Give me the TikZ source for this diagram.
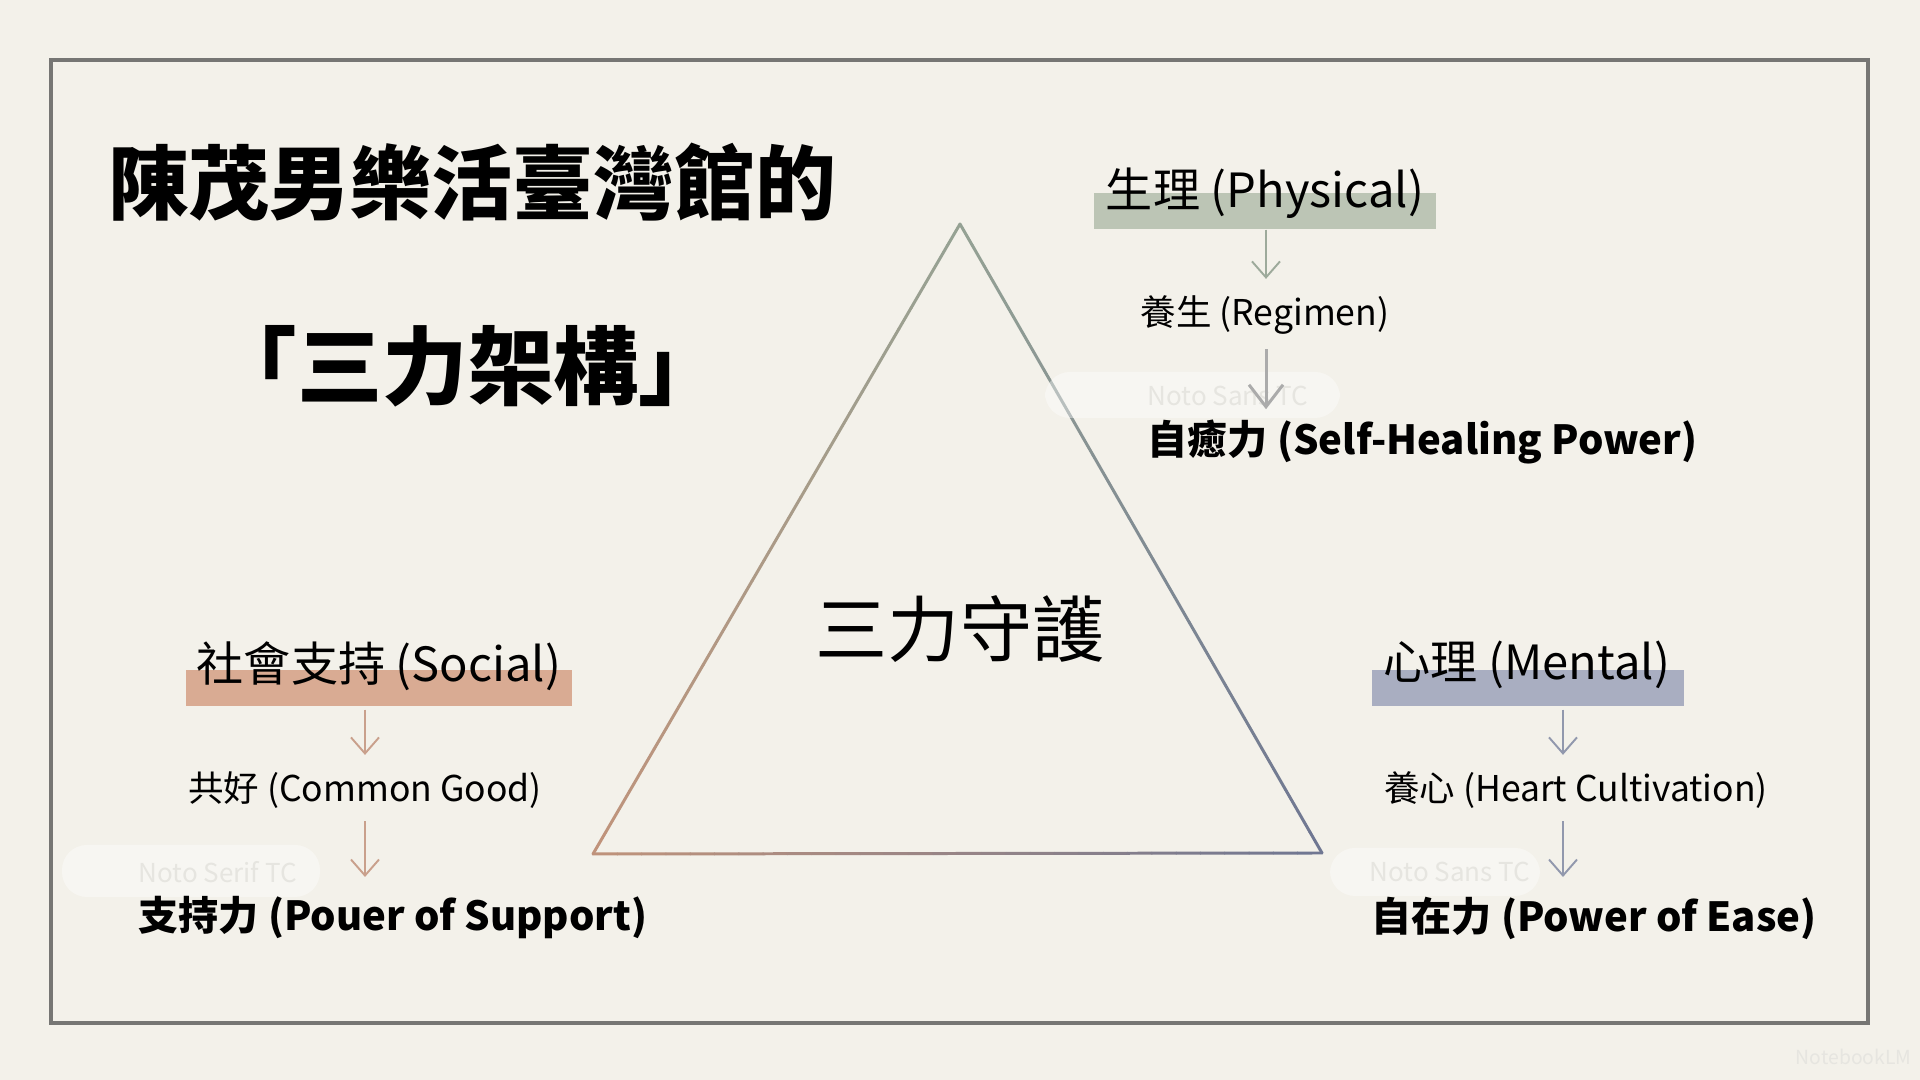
\documentclass[tikz,border=0pt]{standalone}
\usepackage{fontspec}
\setmainfont{Noto Sans CJK TC}
\usetikzlibrary{arrows.meta, calc}

\definecolor{paper}{HTML}{F3F1EA}
\definecolor{framegray}{HTML}{767674}
\definecolor{phygreen}{HTML}{BCC5B5}
\definecolor{phyline}{HTML}{9DAA9B}
\definecolor{soctan}{HTML}{D9AB93}
\definecolor{socline}{HTML}{C9A08C}
\definecolor{menblue}{HTML}{A9AEC1}
\definecolor{menline}{HTML}{9198AD}
\definecolor{tritop}{HTML}{95A294}
\definecolor{trileft}{HTML}{C0937B}
\definecolor{triright}{HTML}{6F7792}
\definecolor{ghostgray}{HTML}{E6E5E0}

\newcommand{\fsTitle}{\fontsize{23pt}{28pt}\selectfont}
\newcommand{\fsTitleB}{\fontsize{24.3pt}{29pt}\selectfont}
\newcommand{\fsCore}{\fontsize{20.5pt}{24pt}\selectfont}
\newcommand{\fsBar}{\fontsize{13.4pt}{16pt}\selectfont}
\newcommand{\fsMid}{\fontsize{10.1pt}{12pt}\selectfont}
\newcommand{\fsBold}{\fontsize{11.4pt}{14pt}\selectfont}
\newcommand{\fsGhost}{\fontsize{7.4pt}{9pt}\selectfont}

\tikzset{
    titletext/.style={font=\fsTitle\bfseries, inner sep=0pt},
    coretext/.style={font=\fsCore, inner sep=0pt},
    barbox/.style={fill=#1, inner sep=0pt, minimum height=0.36cm},
    labtext/.style={font=\fsBar, inner sep=0pt},
    midtext/.style={font=\fsMid, inner sep=0pt},
    boldtext/.style={font=\fsBold\bfseries, inner sep=0pt, anchor=west},
    ghost/.style={font=\fsGhost, text=ghostgray, inner sep=0pt, anchor=west},
    patch/.style={fill=white, opacity=0.4, rounded corners=0.25cm},
    arr/.style={draw=#1, line width=0.55pt, -{Straight Barb[length=1.6mm, width=2.8mm]}},
    bigarr/.style={draw=black!33, line width=0.85pt, -{Straight Barb[length=2.2mm, width=3.4mm]}},
    tri/.style={line width=0.85pt, line cap=round}
}

\begin{document}
\begin{tikzpicture}[x=0.01cm, y=-0.01cm]
    % Paper and frame
    \fill[paper] (0,0) rectangle (1920,1080);
    \useasboundingbox (0,0) rectangle (1920,1080);
    \draw[framegray, line width=0.9pt] (51,60) rectangle (1868,1023);

    % Title
    \node[titletext] (title1) at (472,182) {陳茂男樂活臺灣館的};
    \node[titletext, font=\fsTitleB\bfseries] (title2) at (468,366) {「三力架構」};

    % Triangle with colour running along each side
    \coordinate (apex) at (960,224);
    \coordinate (left) at (593,854);
    \coordinate (right) at (1322,853);
    \foreach \p/\q/\ca/\cb in {apex/left/tritop/trileft, apex/right/tritop/triright, left/right/trileft/triright} {
        \foreach \i in {1,...,30} {
            \pgfmathtruncatemacro{\mixpct}{100-(\i-0.5)*100/30}
            \draw[tri, \ca!\mixpct!\cb] ($(\p)!{(\i-1)/30}!(\q)$) -- ($(\p)!{\i/30}!(\q)$);
        }
    }
    \node[coretext] (core) at (960,629) {三力守護};

    % Faint patches and leftover font names
    \fill[patch] (1045,372) rectangle (1340,418);
    \fill[patch] (62,845) rectangle (320,897);
    \fill[patch] (1330,848) rectangle (1540,896);
    \node[ghost] (ghostphy) at (1147,396) {Noto Sans TC};
    \node[ghost] (ghostsoc) at (138,872) {Noto Serif TC};
    \node[ghost] (ghostmen) at (1369,872) {Noto Sans TC};
    \node[font=\fontsize{5.5pt}{7pt}\selectfont, text=ghostgray, anchor=east, inner sep=0pt] (mark) at (1912,1057) {NotebookLM};

    % Physical
    \node[barbox=phygreen, minimum width=3.41cm] (phybar) at (1265,211) {};
    \node[labtext] (phy) at (1265,193) {生理 (Physical)};
    \node[midtext] (reg) at (1265,315) {養生 (Regimen)};
    \node[boldtext] (heal) at (1147,442) {自癒力 (Self-Healing Power)};
    \coordinate (phyx) at (1266,0);
    \draw[arr=phyline, shorten >=0.16cm] (phybar.south -| phyx) -- (reg.north -| phyx);
    \draw[bigarr, shorten <=0.14cm, shorten >=0.1cm] (reg.south -| phyx) -- (heal.north -| phyx);

    % Social
    \node[barbox=soctan, minimum width=3.86cm] (socbar) at (379,688) {};
    \node[labtext] (soc) at (379,666) {社會支持 (Social)};
    \node[midtext] (good) at (365,790) {共好 (Common Good)};
    \node[boldtext] (support) at (138,918) {支持力 (Pouer of Support)};
    \coordinate (socx) at (365,0);
    \draw[arr=socline, shorten <=0.03cm, shorten >=0.16cm] (socbar.south -| socx) -- (good.north -| socx);
    \draw[arr=socline, shorten <=0.12cm, shorten >=0.19cm] (good.south -| socx) -- (support.north -| socx);

    % Mental
    \node[barbox=menblue, minimum width=3.11cm] (menbar) at (1528,688) {};
    \node[labtext] (men) at (1527,665) {心理 (Mental)};
    \node[midtext] (heart) at (1576,790) {養心 (Heart Cultivation)};
    \node[boldtext] (ease) at (1371,918) {自在力 (Power of Ease)};
    \coordinate (menx) at (1563,0);
    \draw[arr=menline, shorten <=0.03cm, shorten >=0.16cm] (menbar.south -| menx) -- (heart.north -| menx);
    \draw[arr=menline, shorten <=0.12cm, shorten >=0.19cm] (heart.south -| menx) -- (ease.north -| menx);
\end{tikzpicture}
\end{document}
